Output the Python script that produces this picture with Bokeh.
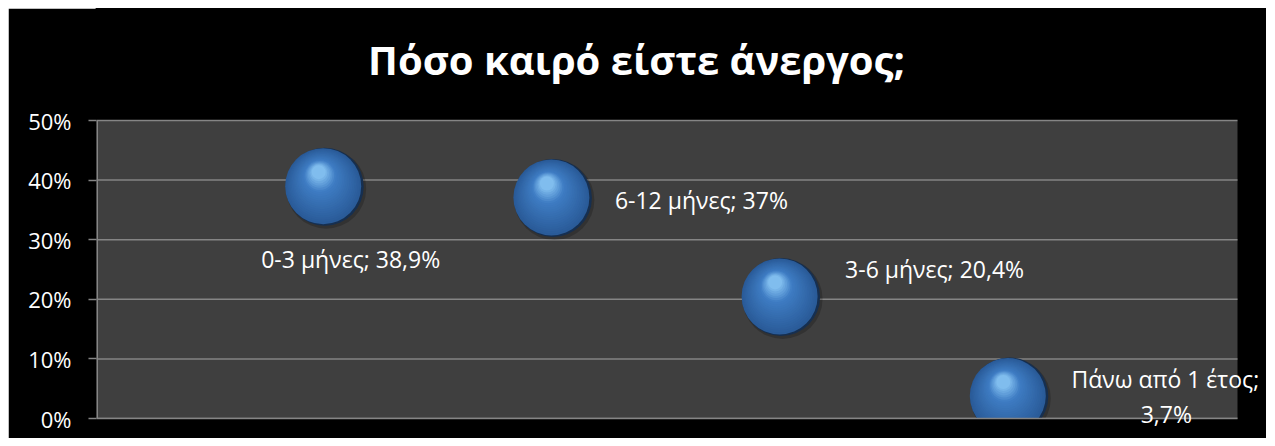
from bokeh.plotting import figure
from bokeh.models import Range1d, FixedTicker, PrintfTickFormatter, Label, ColumnDataSource, BoxAnnotation
from bokeh.transform import dodge
from bokeh.embed import file_html
from bokeh.resources import INLINE

# ---- data ----
title_text = "Πόσο καιρό είστε άνεργος;"
categories = ["0-3 μήνες", "6-12 μήνες", "3-6 μήνες", "Πάνω από 1 έτος"]
x_pos = [1, 2, 3, 4]
values = [38.9, 37.0, 20.4, 3.7]
y_ticks = [0, 10, 20, 30, 40, 50]
x_lim = [0, 5]

FONT = "Open Sans"
GRID = "#858585"

# ---- layout (pixels, relative to the figure) ----
W, H = 1258, 430
LEFT = 88                    # left border holding the y axis
PLOT_TOP, PLOT_BOTTOM = 112, 410   # grey plot area, vertical extent
PLOT_W = 1141                # grey plot area width
TITLE_CX, TITLE_BASE = 628, 51

dx_px = (x_lim[1] - x_lim[0]) / PLOT_W
dy_px = (y_ticks[-1] - y_ticks[0]) / (PLOT_BOTTOM - PLOT_TOP)
x_end = x_lim[0] + (W - LEFT) * dx_px
y_start = y_ticks[0] - (H - PLOT_BOTTOM) * dy_px
y_end = y_ticks[-1] + PLOT_TOP * dy_px

p = figure(width=W, height=H, output_backend="svg", toolbar_location=None,
           x_range=Range1d(x_lim[0], x_end), y_range=Range1d(y_start, y_end),
           x_axis_location=None, min_border_left=LEFT, min_border_right=0,
           min_border_top=0, min_border_bottom=0)
p.margin = (8, 8, 8, 8)

p.background_fill_color = "black"
p.border_fill_color = "black"
p.outline_line_color = "black"
p.outline_line_width = 2

ax = p.yaxis[0]
ax.ticker = FixedTicker(ticks=y_ticks)
ax.bounds = (y_ticks[0], y_ticks[-1])
ax.formatter = PrintfTickFormatter(format="%d%%")
ax.major_label_text_font = FONT
ax.major_label_text_font_size = "22px"
ax.major_label_text_color = "white"
ax.axis_line_color = None
ax.major_tick_line_color = GRID
ax.major_tick_line_width = 1.5
ax.major_tick_out = 8
ax.major_tick_in = 0
ax.minor_tick_line_color = None
ax.major_label_standoff = 17

p.xgrid.visible = False
p.ygrid.visible = False

# title
p.add_layout(Label(x=x_lim[0] + (TITLE_CX - LEFT) * dx_px,
                   y=y_ticks[-1] + (PLOT_TOP - TITLE_BASE) * dy_px,
                   text=title_text, text_font=FONT, text_font_style="bold",
                   text_font_size="40px", text_color="white",
                   text_align="center", text_baseline="alphabetic"))

# grey plot area
p.add_layout(BoxAnnotation(left=x_lim[0], right=x_lim[1], bottom=y_ticks[0], top=y_ticks[-1],
                           fill_color="#3f3f3f", fill_alpha=1, line_color=None, level="underlay"))

# grid lines
grid_src = ColumnDataSource(data=dict(y=y_ticks))
p.segment(x0=x_lim[0], x1=x_lim[1], y0="y", y1="y", source=grid_src,
          line_color=GRID, line_width=1.5)

src = ColumnDataSource(data=dict(x=x_pos, y=values))


def hex2rgb(h):
    h = h.lstrip("#")
    return tuple(int(h[i:i + 2], 16) for i in (0, 2, 4))


def lerp(c0, c1, t):
    a, b = hex2rgb(c0), hex2rgb(c1)
    return "#%02x%02x%02x" % tuple(int(round(a[i] + (b[i] - a[i]) * t)) for i in range(3))


# soft shadow + dark rim
p.scatter(x=dodge("x", 1.5 * dx_px), y=dodge("y", -2 * dy_px), source=src,
          size=80, fill_color="black", fill_alpha=0.2, line_color=None)
p.scatter(x="x", y="y", source=src, size=78, fill_color="#162f50", line_color=None)

n = 22
for i in range(n):
    t = i / (n - 1)
    size = 76 - t * 62
    ox = -1.5 - t * 4.5
    oy = -0.5 - t * 14.0
    if t < 0.7:
        col = lerp("#2a5b98", "#3e7cc3", t / 0.7)
    else:
        col = lerp("#3e7cc3", "#80bdee", (t - 0.7) / 0.3)
    p.scatter(x=dodge("x", ox * dx_px), y=dodge("y", -oy * dy_px), source=src,
              size=size, fill_color=col, line_color=None)

# mask below the plot area (bubbles are clipped at 0 %)
p.quad(left=x_lim[0], right=x_end, bottom=y_start, top=y_ticks[0],
       fill_color="black", line_color=None)
p.segment(x0=x_lim[0], x1=x_lim[1], y0=y_ticks[0], y1=y_ticks[0],
          line_color=GRID, line_width=1.5)
# y axis line, only across the plot area
p.segment(x0=x_lim[0], x1=x_lim[0], y0=y_ticks[0], y1=y_ticks[-1],
          line_color=GRID, line_width=3)


def fmt(v):
    return f"{v:g}".replace(".", ",") + "%"


LBL = dict(text_font=FONT, text_font_size="23px", text_color="white", text_baseline="middle")

label_style = [
    dict(x_offset=26, y_offset=-72, text_align="center"),
    dict(x_offset=62, y_offset=-2, text_align="left"),
    dict(x_offset=64, y_offset=28, text_align="left"),
]
for i in range(3):
    p.add_layout(Label(x=x_pos[i], y=values[i], text=f"{categories[i]}; {fmt(values[i])}",
                       **LBL, **label_style[i]))

# last label wraps over two lines
p.add_layout(Label(x=x_pos[3], y=values[3], text=f"{categories[3]};", **LBL,
                   text_align="center", x_offset=156, y_offset=17))
p.add_layout(Label(x=x_pos[3], y=values[3], text=fmt(values[3]), **LBL,
                   text_align="center", x_offset=157, y_offset=-18))

open("out.html", "w").write(file_html(p, INLINE))
